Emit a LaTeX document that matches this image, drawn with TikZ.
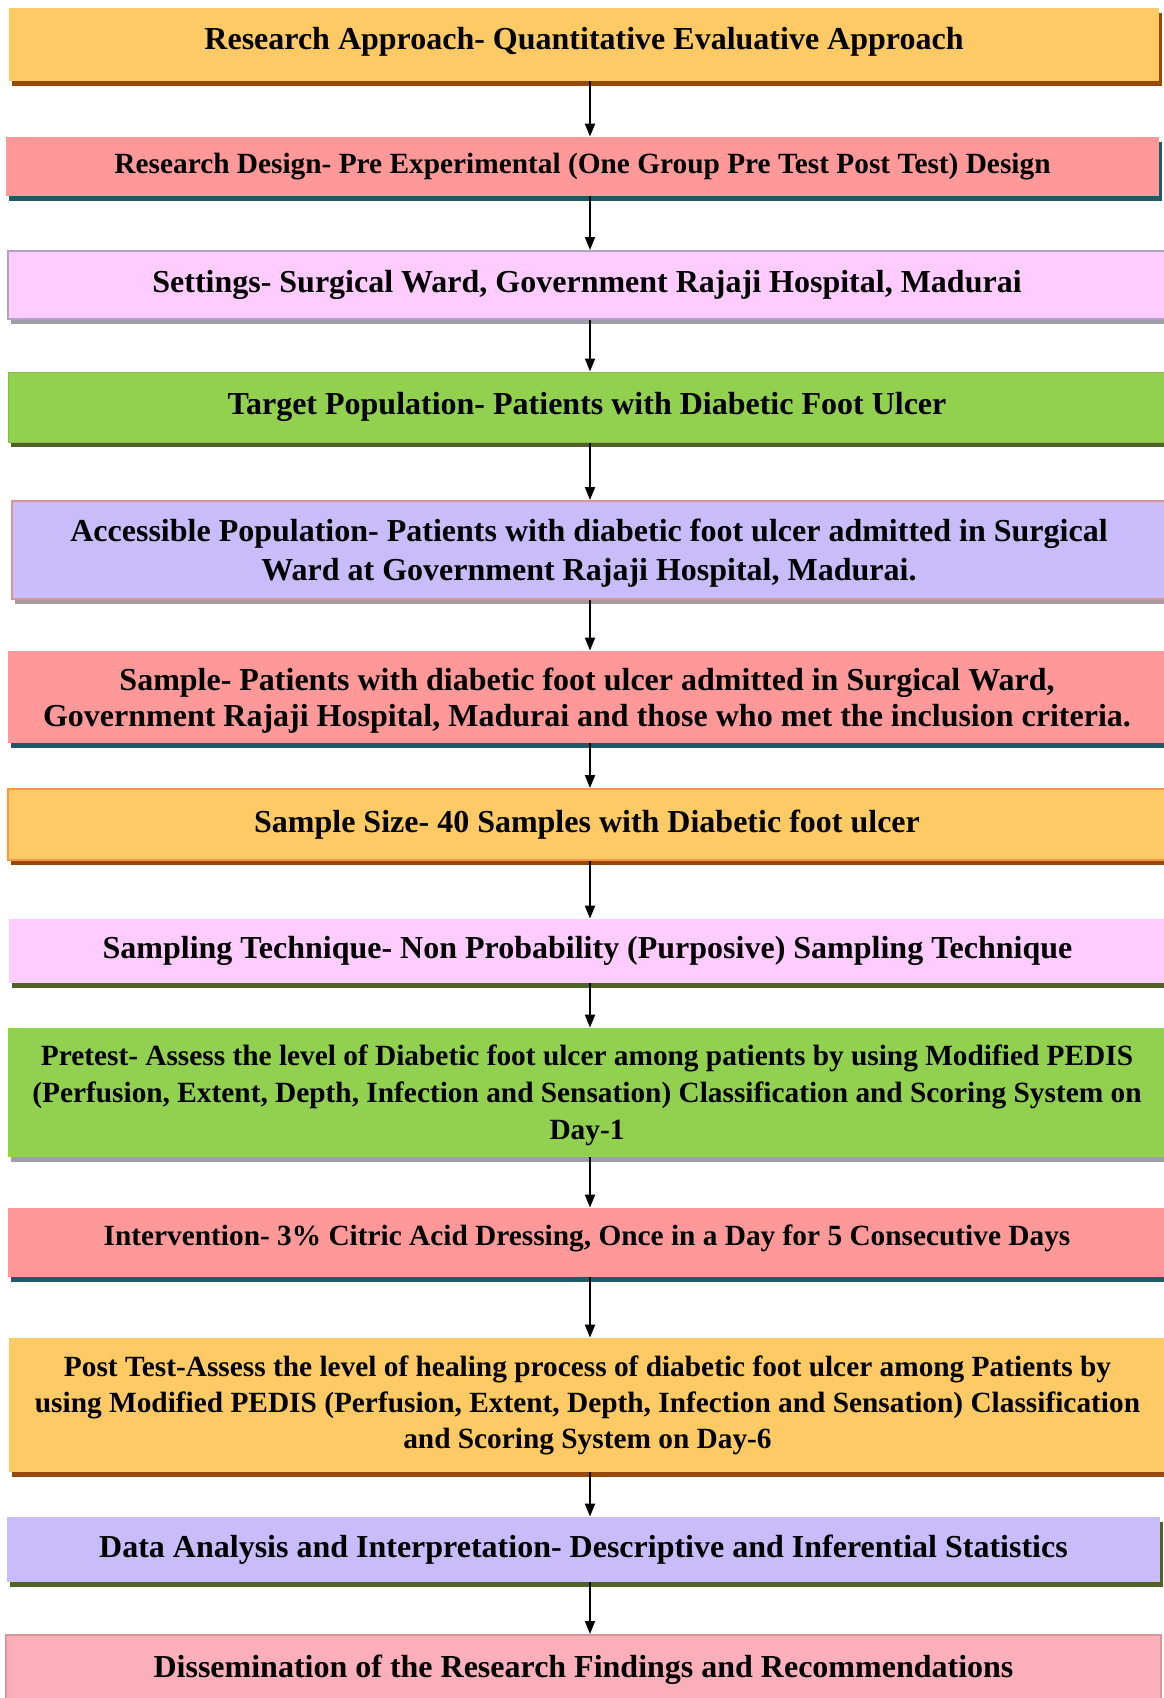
\documentclass[tikz,border=0pt]{standalone}
\usepackage{fontspec}
\setmainfont{Liberation Serif}
\usetikzlibrary{arrows.meta,shadows}
\definecolor{peach}{RGB}{254,202,102}
\definecolor{rose}{RGB}{255,153,153}
\definecolor{lightpink}{RGB}{255,204,255}
\definecolor{leaf}{RGB}{146,208,80}
\definecolor{lavender}{RGB}{200,188,250}
\definecolor{blush}{RGB}{250,175,186}
\definecolor{rust}{RGB}{152,72,7}
\definecolor{petrol}{RGB}{33,89,104}
\definecolor{olive}{RGB}{79,98,40}
\definecolor{haze}{RGB}{160,156,170}
\definecolor{dustyhaze}{RGB}{170,152,156}
\definecolor{lilacline}{RGB}{179,162,199}
\definecolor{roseline}{RGB}{217,150,148}
\definecolor{orangeline}{RGB}{247,150,70}
\definecolor{leafline}{RGB}{136,184,72}

\begin{document}
\begin{tikzpicture}[x=0.5pt,y=-0.5pt,
    box/.style={inner sep=0pt, align=center, font=\bfseries\fontsize{16pt}{18.5pt}\selectfont},
    small/.style={font=\bfseries\fontsize{14.67pt}{18pt}\selectfont},
    shadowed/.style={drop shadow={shadow xshift=1.5pt, shadow yshift=-2.5pt, fill=#1, opacity=1}},
    arrow/.style={-{Triangle[length=6.5pt,width=5pt]}, line width=1pt}
  ]
  \useasboundingbox (0,0) rectangle (1163,1698);

  % Approach and design
  \node[box, shadowed=rust, fill=peach, minimum width=575pt, minimum height=36.5pt, text depth=6pt] (approach) at (584,44.5) {Research Approach- Quantitative Evaluative Approach};
  \node[box, small, shadowed=petrol, fill=rose, minimum width=576.5pt, minimum height=29.5pt] (design) at (582.5,166.5) {Research Design- Pre Experimental (One Group Pre Test Post Test) Design};

  % Setting and population
  \node[box, shadowed=haze, fill=lightpink, draw=lilacline, line width=1pt, minimum width=579pt, minimum height=34pt] (settings) at (587,285) {Settings- Surgical Ward, Government Rajaji Hospital, Madurai};
  \node[box, shadowed=olive, fill=leaf, draw=leafline, line width=0.5pt, minimum width=579pt, minimum height=35pt] (target) at (587,407) {Target Population- Patients with Diabetic Foot Ulcer};
  \node[box, shadowed=dustyhaze, fill=lavender, draw=roseline, line width=1pt, minimum width=577pt, minimum height=49pt, text depth=0pt, font=\bfseries\fontsize{16pt}{19.5pt}\selectfont] (accessible) at (589,550) {Accessible Population- Patients with diabetic foot ulcer admitted in Surgical\\Ward at Government Rajaji Hospital, Madurai.};

  % Sample
  \node[box, shadowed=petrol, fill=rose, minimum width=579pt, minimum height=46pt, text depth=0pt, font=\bfseries\fontsize{16pt}{18pt}\selectfont] (sample) at (587,697) {Sample- Patients with diabetic foot ulcer admitted in Surgical Ward,\\Government Rajaji Hospital, Madurai and those who met the inclusion criteria.};
  \node[box, shadowed=rust, fill=peach, draw=orangeline, line width=1pt, minimum width=579pt, minimum height=35.5pt] (samplesize) at (587,824.5) {Sample Size- 40 Samples with Diabetic foot ulcer};
  \node[box, shadowed=olive, fill=lightpink, minimum width=578.5pt, minimum height=32pt] (technique) at (587.5,951) {Sampling Technique- Non Probability (Purposive) Sampling Technique};

  % Tests and intervention
  \node[box, small, shadowed=haze, fill=leaf, minimum width=579pt, minimum height=64.5pt, text depth=-1pt, font=\bfseries\fontsize{14.67pt}{18.5pt}\selectfont] (pretest) at (587,1092.5) {Pretest- Assess the level of Diabetic foot ulcer among patients by using Modified PEDIS\\(Perfusion, Extent, Depth, Infection and Sensation) Classification and Scoring System on\\Day-1};
  \node[box, small, shadowed=petrol, fill=rose, minimum width=579pt, minimum height=34.5pt, text depth=7.5pt] (intervention) at (587,1242.5) {Intervention- 3\% Citric Acid Dressing, Once in a Day for 5 Consecutive Days};
  \node[box, small, shadowed=rust, fill=peach, minimum width=578.5pt, minimum height=67pt] (posttest) at (587.5,1405) {Post Test-Assess the level of healing process of diabetic foot ulcer among Patients by\\using Modified PEDIS (Perfusion, Extent, Depth, Infection and Sensation) Classification\\and Scoring System on Day-6};

  % Analysis and dissemination
  \node[box, shadowed=olive, fill=lavender, minimum width=576.5pt, minimum height=32.5pt] (analysis) at (583.5,1549.5) {Data Analysis and Interpretation- Descriptive and Inferential Statistics};
  \node[box, fill=blush, draw=roseline, line width=1pt, minimum width=577.5pt, minimum height=35pt, text depth=4pt] (dissemination) at (583.5,1670) {Dissemination of the Research Findings and Recommendations};

  % Arrows
  \coordinate (axis) at (590,0);
  \draw[arrow] (approach.south -| axis) -- (design.north -| axis);
  \draw[arrow] (design.south -| axis) -- (settings.north -| axis);
  \draw[arrow] (settings.south -| axis) -- (target.north -| axis);
  \draw[arrow] (target.south -| axis) -- (accessible.north -| axis);
  \draw[arrow] (accessible.south -| axis) -- (sample.north -| axis);
  \draw[arrow] (sample.south -| axis) -- (samplesize.north -| axis);
  \draw[arrow] (samplesize.south -| axis) -- (technique.north -| axis);
  \draw[arrow] (technique.south -| axis) -- (pretest.north -| axis);
  \draw[arrow] (pretest.south -| axis) -- (intervention.north -| axis);
  \draw[arrow] (intervention.south -| axis) -- (posttest.north -| axis);
  \draw[arrow] (posttest.south -| axis) -- (analysis.north -| axis);
  \draw[arrow] (analysis.south -| axis) -- (dissemination.north -| axis);
\end{tikzpicture}
\end{document}
